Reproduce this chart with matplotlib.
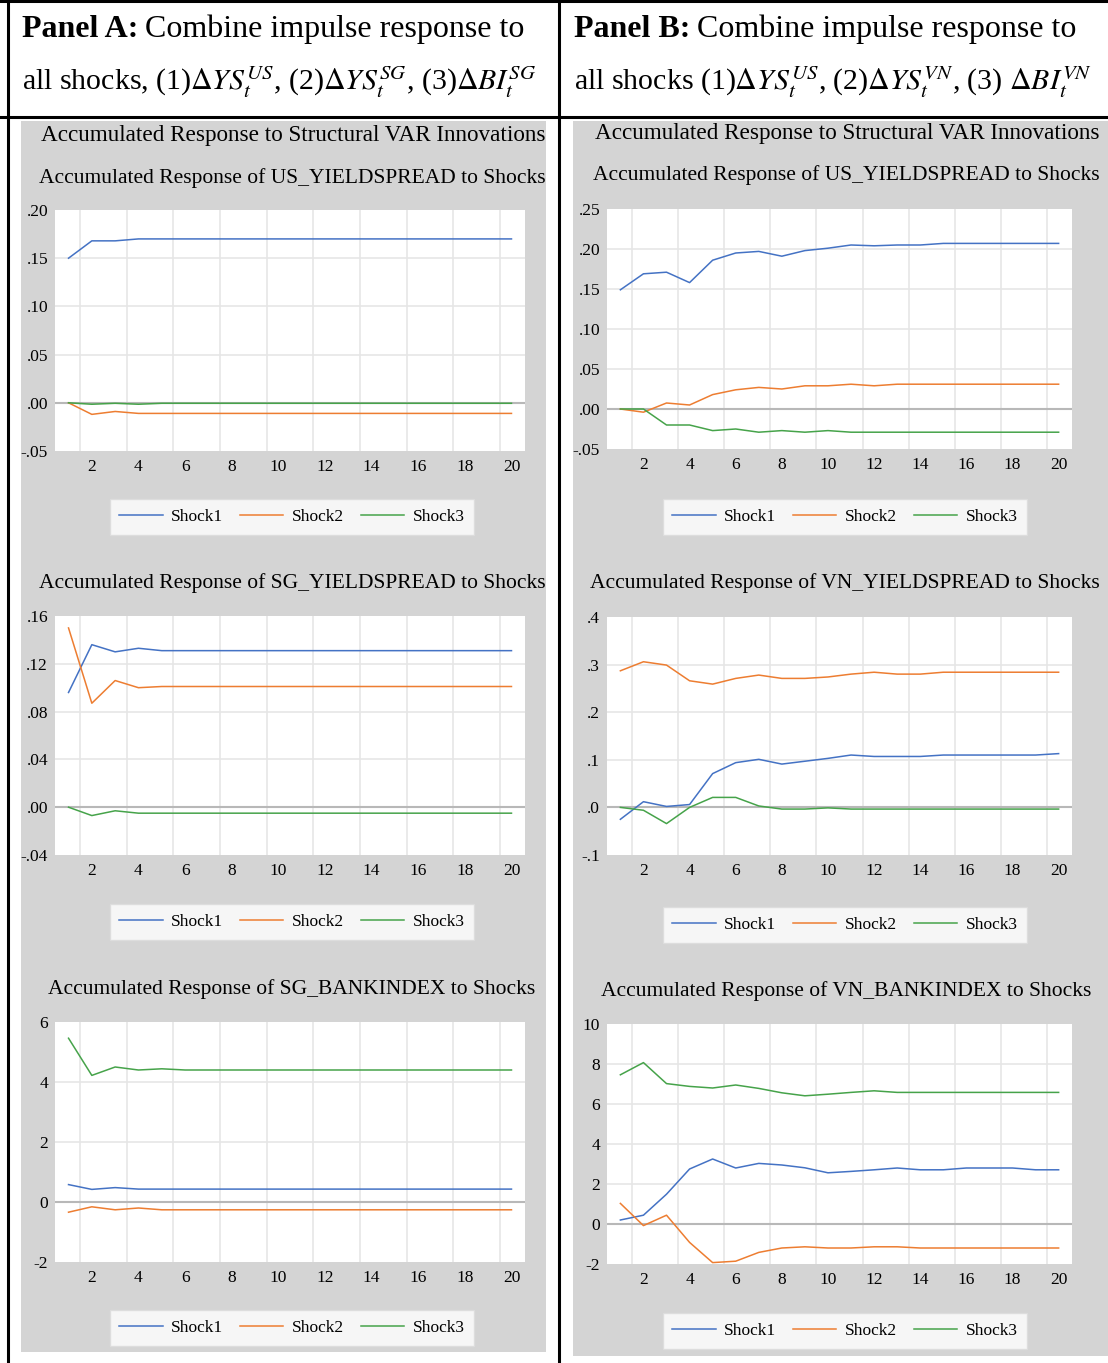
"""
Accumulated impulse responses from two structural VARs (US/SG and US/VN),
laid out as a two-column table with three response charts per column.
"""

import matplotlib.pyplot as plt
from matplotlib.patches import Rectangle
from matplotlib.lines import Line2D

plt.rcParams['font.family'] = ['Liberation Serif', 'DejaVu Serif']
plt.rcParams['mathtext.fontset'] = 'stix'

W, H = 1108, 1363

horizon = list(range(1, 21))
shock_names = ['Shock1', 'Shock2', 'Shock3']
shock_colors = ['#4472c4', '#ed7d31', '#46a34a']

# ---- Panel A: US / SG system ----
sg_us_spread_1 = [0.150, 0.168, 0.168, 0.170, 0.170, 0.170, 0.170, 0.170, 0.170, 0.170,
                  0.170, 0.170, 0.170, 0.170, 0.170, 0.170, 0.170, 0.170, 0.170, 0.170]
sg_us_spread_2 = [0.000, -0.012, -0.009, -0.011, -0.011, -0.011, -0.011, -0.011, -0.011, -0.011,
                  -0.011, -0.011, -0.011, -0.011, -0.011, -0.011, -0.011, -0.011, -0.011, -0.011]
sg_us_spread_3 = [0.000, -0.0015, -0.0005, -0.0015, -0.0005, -0.0005, -0.0005, -0.0005, -0.0005, -0.0005,
                  -0.0005, -0.0005, -0.0005, -0.0005, -0.0005, -0.0005, -0.0005, -0.0005, -0.0005, -0.0005]

sg_spread_1 = [0.096, 0.136, 0.130, 0.133, 0.131, 0.131, 0.131, 0.131, 0.131, 0.131,
               0.131, 0.131, 0.131, 0.131, 0.131, 0.131, 0.131, 0.131, 0.131, 0.131]
sg_spread_2 = [0.150, 0.087, 0.106, 0.100, 0.101, 0.101, 0.101, 0.101, 0.101, 0.101,
               0.101, 0.101, 0.101, 0.101, 0.101, 0.101, 0.101, 0.101, 0.101, 0.101]
sg_spread_3 = [0.000, -0.007, -0.003, -0.005, -0.005, -0.005, -0.005, -0.005, -0.005, -0.005,
               -0.005, -0.005, -0.005, -0.005, -0.005, -0.005, -0.005, -0.005, -0.005, -0.005]

sg_bank_1 = [0.58, 0.42, 0.48, 0.43, 0.43, 0.43, 0.43, 0.43, 0.43, 0.43,
             0.43, 0.43, 0.43, 0.43, 0.43, 0.43, 0.43, 0.43, 0.43, 0.43]
sg_bank_2 = [-0.34, -0.16, -0.26, -0.20, -0.26, -0.26, -0.26, -0.26, -0.26, -0.26,
             -0.26, -0.26, -0.26, -0.26, -0.26, -0.26, -0.26, -0.26, -0.26, -0.26]
sg_bank_3 = [5.46, 4.22, 4.50, 4.40, 4.44, 4.40, 4.40, 4.40, 4.40, 4.40,
             4.40, 4.40, 4.40, 4.40, 4.40, 4.40, 4.40, 4.40, 4.40, 4.40]

# ---- Panel B: US / VN system ----
vn_us_spread_1 = [0.149, 0.169, 0.171, 0.158, 0.186, 0.195, 0.197, 0.191, 0.198, 0.201,
                  0.205, 0.204, 0.205, 0.205, 0.207, 0.207, 0.207, 0.207, 0.207, 0.207]
vn_us_spread_2 = [0.000, -0.004, 0.0075, 0.005, 0.018, 0.024, 0.027, 0.025, 0.029, 0.029,
                  0.031, 0.029, 0.031, 0.031, 0.031, 0.031, 0.031, 0.031, 0.031, 0.031]
vn_us_spread_3 = [0.000, 0.000, -0.020, -0.020, -0.027, -0.025, -0.029, -0.027, -0.029, -0.027,
                  -0.029, -0.029, -0.029, -0.029, -0.029, -0.029, -0.029, -0.029, -0.029, -0.029]

vn_spread_1 = [-0.025, 0.012, 0.002, 0.006, 0.071, 0.094, 0.101, 0.091, 0.097, 0.103,
               0.110, 0.107, 0.107, 0.107, 0.110, 0.110, 0.110, 0.110, 0.110, 0.113]
vn_spread_2 = [0.287, 0.306, 0.299, 0.266, 0.259, 0.271, 0.278, 0.271, 0.271, 0.274,
               0.280, 0.284, 0.280, 0.280, 0.284, 0.284, 0.284, 0.284, 0.284, 0.284]
vn_spread_3 = [0.000, -0.006, -0.034, 0.000, 0.021, 0.021, 0.003, -0.0035, -0.0035, -0.001,
               -0.0035, -0.0035, -0.0035, -0.0035, -0.0035, -0.0035, -0.0035, -0.0035, -0.0035, -0.0035]

vn_bank_1 = [0.20, 0.44, 1.49, 2.75, 3.25, 2.80, 3.03, 2.95, 2.81, 2.56,
             2.63, 2.71, 2.80, 2.71, 2.71, 2.80, 2.80, 2.80, 2.71, 2.71]
vn_bank_2 = [1.03, -0.08, 0.44, -0.92, -1.93, -1.86, -1.42, -1.20, -1.14, -1.20,
             -1.20, -1.14, -1.14, -1.20, -1.20, -1.20, -1.20, -1.20, -1.20, -1.20]
vn_bank_3 = [7.46, 8.07, 7.02, 6.88, 6.80, 6.95, 6.78, 6.56, 6.41, 6.49,
             6.58, 6.66, 6.58, 6.58, 6.58, 6.58, 6.58, 6.58, 6.58, 6.58]

# y tick values and their EViews-style labels
spread_ticks_a = [-0.05, 0.00, 0.05, 0.10, 0.15, 0.20]
spread_labels_a = ['-.05', '.00', '.05', '.10', '.15', '.20']
sg_spread_ticks = [-0.04, 0.00, 0.04, 0.08, 0.12, 0.16]
sg_spread_labels = ['-.04', '.00', '.04', '.08', '.12', '.16']
sg_bank_ticks = [-2, 0, 2, 4, 6]
sg_bank_labels = ['-2', '0', '2', '4', '6']
spread_ticks_b = [-0.05, 0.00, 0.05, 0.10, 0.15, 0.20, 0.25]
spread_labels_b = ['-.05', '.00', '.05', '.10', '.15', '.20', '.25']
vn_spread_ticks = [-0.1, 0.0, 0.1, 0.2, 0.3, 0.4]
vn_spread_labels = ['-.1', '.0', '.1', '.2', '.3', '.4']
vn_bank_ticks = [-2, 0, 2, 4, 6, 8, 10]
vn_bank_labels = ['-2', '0', '2', '4', '6', '8', '10']
x_ticks = [2, 4, 6, 8, 10, 12, 14, 16, 18, 20]

GRAY = '#d4d4d4'
GRID = '#e6e6e6'
ZERO = '#b8b8b8'


def fig_box(x0, y0, x1, y1):
    """pixel box (top-left origin) -> figure fraction rect"""
    return [x0 / W, 1 - y1 / H, (x1 - x0) / W, (y1 - y0) / H]


def draw_chart(fig, box, series, yticks, ylabels, title, title_xy, legend_xy):
    ax = fig.add_axes(fig_box(*box))
    ax.set_facecolor('white')
    for spine in ax.spines.values():
        spine.set_visible(False)

    ax.set_xlim(0.42, 20.58)
    ax.set_ylim(yticks[0], yticks[-1])
    ax.set_yticks(yticks)
    ax.set_yticklabels(ylabels)
    ax.set_xticks(x_ticks)
    ax.set_xticks([t - 0.5 for t in x_ticks], minor=True)
    ax.tick_params(axis='both', which='both', length=0, labelsize=12.5, colors='black')
    ax.tick_params(axis='y', pad=5)
    ax.tick_params(axis='x', pad=6)

    # grid: horizontal at y ticks, vertical between observations
    for yv in yticks[1:-1]:
        if yv != 0:
            ax.axhline(yv, color=GRID, lw=1.2, zorder=0)
    for xv in ax.get_xticks(minor=True):
        ax.axvline(xv, color=GRID, lw=1.2, zorder=0)
    ax.axhline(0, color=ZERO, lw=1.5, zorder=1)

    for vals, color in zip(series, shock_colors):
        ax.plot(horizon, vals, color=color, lw=1.1, zorder=2)

    fig.text(title_xy[0] / W, 1 - title_xy[1] / H, title,
             ha='center', va='center', fontsize=15.5)

    handles = [Line2D([], [], color=c, lw=1.1) for c in shock_colors]
    leg = fig.legend(handles, shock_names, loc='center',
                     bbox_to_anchor=(legend_xy[0] / W, 1 - legend_xy[1] / H),
                     ncol=3, fontsize=12.5, frameon=True, fancybox=False,
                     handlelength=2.5, handletextpad=0.5, columnspacing=0.95,
                     borderpad=0.55, borderaxespad=0)
    leg.get_frame().set_edgecolor('#dcdcdc')
    leg.get_frame().set_linewidth(1.0)
    leg.get_frame().set_facecolor('white')
    return ax


fig = plt.figure(figsize=(W / 100, H / 100), dpi=100)
fig.patch.set_facecolor('white')
renderer = fig.canvas.get_renderer()

# gray chart backgrounds
fig.add_artist(Rectangle((21 / W, 1 - 1352 / H), (546 - 21) / W, (1352 - 121) / H,
                         transform=fig.transFigure, facecolor=GRAY, edgecolor='none', zorder=0))
fig.add_artist(Rectangle((573 / W, 1 - 1356 / H), (W - 573) / W, (1356 - 121) / H,
                         transform=fig.transFigure, facecolor=GRAY, edgecolor='none', zorder=0))

# table rules
table_kw = dict(transform=fig.transFigure, color='black', lw=2.2, zorder=5)
fig.add_artist(Line2D([0, 1], [1 - 1 / H, 1 - 1 / H], **table_kw))
fig.add_artist(Line2D([0, 1], [1 - 117 / H, 1 - 117 / H], **table_kw))
fig.add_artist(Line2D([8 / W, 8 / W], [0, 1], **table_kw))
fig.add_artist(Line2D([559 / W, 559 / W], [0, 1], **table_kw))

# column headers
headers = [
    (22, 'Panel A:', r'all shocks, (1)$\Delta YS_t^{US}$, (2)$\Delta YS_t^{SG}$, (3)$\Delta BI_t^{SG}$'),
    (574, 'Panel B:', r'all shocks (1)$\Delta YS_t^{US}$, (2)$\Delta YS_t^{VN}$, (3) $\Delta BI_t^{VN}$'),
]
for x_px, panel, line2 in headers:
    bold = fig.text(x_px / W, 1 - 37 / H, panel, fontsize=23, fontweight='bold',
                    ha='left', va='baseline')
    bb = bold.get_window_extent(renderer)
    fig.text((bb.x1 + 7) / W, 1 - 37 / H, 'Combine impulse response to',
             fontsize=23, ha='left', va='baseline')
    fig.text(x_px / W, 1 - 90 / H, line2, fontsize=21.5, ha='left', va='baseline')

fig.text(293 / W, 1 - 136 / H, 'Accumulated Response to Structural VAR Innovations',
         ha='center', va='center', fontsize=16.7)
fig.text(847 / W, 1 - 133 / H, 'Accumulated Response to Structural VAR Innovations',
         ha='center', va='center', fontsize=16.7)

draw_chart(fig, (55, 210, 525, 451), [sg_us_spread_1, sg_us_spread_2, sg_us_spread_3],
           spread_ticks_a, spread_labels_a,
           'Accumulated Response of US_YIELDSPREAD to Shocks', (292, 178), (292, 517))
draw_chart(fig, (55, 616, 525, 855), [sg_spread_1, sg_spread_2, sg_spread_3],
           sg_spread_ticks, sg_spread_labels,
           'Accumulated Response of SG_YIELDSPREAD to Shocks', (292, 583), (292, 922))
draw_chart(fig, (55, 1022, 525, 1262), [sg_bank_1, sg_bank_2, sg_bank_3],
           sg_bank_ticks, sg_bank_labels,
           'Accumulated Response of SG_BANKINDEX to Shocks', (292, 989), (292, 1328))

draw_chart(fig, (607, 209, 1072, 449), [vn_us_spread_1, vn_us_spread_2, vn_us_spread_3],
           spread_ticks_b, spread_labels_b,
           'Accumulated Response of US_YIELDSPREAD to Shocks', (846, 175), (845, 517))
draw_chart(fig, (607, 617, 1072, 855), [vn_spread_1, vn_spread_2, vn_spread_3],
           vn_spread_ticks, vn_spread_labels,
           'Accumulated Response of VN_YIELDSPREAD to Shocks', (845, 583), (845, 925))
draw_chart(fig, (607, 1024, 1072, 1264), [vn_bank_1, vn_bank_2, vn_bank_3],
           vn_bank_ticks, vn_bank_labels,
           'Accumulated Response of VN_BANKINDEX to Shocks', (846, 991), (845, 1331))

fig.savefig('out.png', dpi=100, facecolor='white')
